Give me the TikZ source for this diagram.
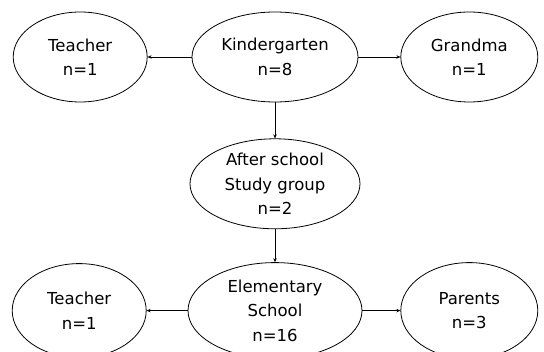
\documentclass[tikz,border=0pt]{standalone}
\usepackage{fontspec}
\setmainfont{DejaVu Sans}
\usetikzlibrary{positioning,arrows.meta,shapes.geometric}
\begin{document}
\begin{tikzpicture}[main/.style = {draw, ellipse, line width=0.8pt, inner sep=0pt, align=center, font=\fontsize{16.5}{24.5}\selectfont},
                    link/.style = {-{Stealth[length=4pt,width=3.5pt]}, line width=0.8pt}]
            \useasboundingbox (0,0) rectangle (544pt,-352pt);
            \clip (0,0) rectangle (544pt,-352pt);
            \node[main, minimum width=166pt, minimum height=90pt] (1) at (275pt,-57pt) {Kindergarten\\n=8};
            \node[main, minimum width=134pt, minimum height=90pt] (2) [left=44pt of 1] {Teacher\\n=1};
            \node[main, minimum width=137pt, minimum height=90pt] (3) [right=42pt of 1] {Grandma\\n=1};
            \node[main, minimum width=170pt, minimum height=90pt] (4) [below=36pt of 1] {After school\\Study group\\n=2};
            \node[main, minimum width=174pt, minimum height=96pt] (5) [below=33pt of 4] {Elementary\\School\\n=16};
            \node[main, minimum width=134pt, minimum height=94pt] (6) [left=41pt of 5] {Teacher\\n=1};
            \node[main, minimum width=137pt, minimum height=96pt] (7) [right=38pt of 5] {Parents\\n=3};
            \draw[link] (1) -- (2);
            \draw[link] (1) -- (3);
            \draw[link] (1) -- (4);
            \draw[link] (4) -- (5);
            \draw[link] (5) -- (6);
            \draw[link] (5) -- (7);
        \end{tikzpicture}
\end{document}
